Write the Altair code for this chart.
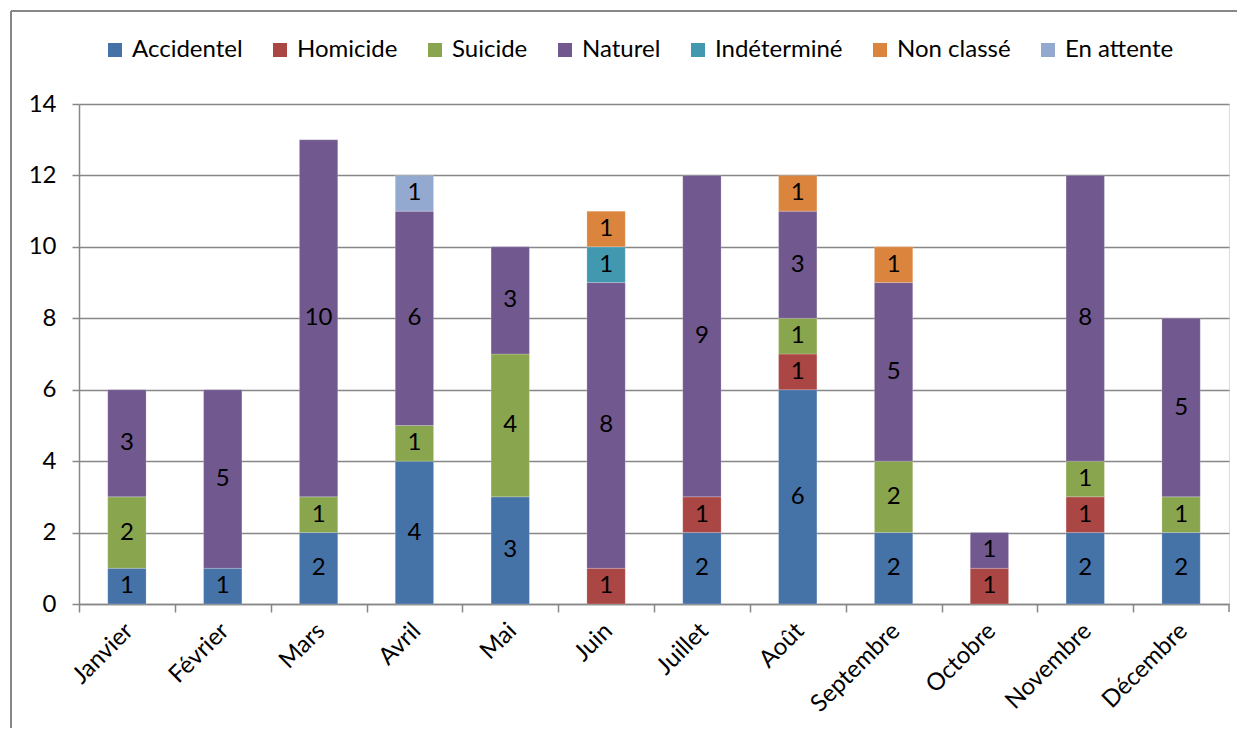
import altair as alt
import pandas as pd

months = ["Janvier", "Février", "Mars", "Avril", "Mai", "Juin", "Juillet",
          "Août", "Septembre", "Octobre", "Novembre", "Décembre"]
categories = ["Accidentel", "Homicide", "Suicide", "Naturel", "Indéterminé",
              "Non classé", "En attente"]
colors = ["#4572A7", "#AA4643", "#89A54E", "#71588F", "#4198AF", "#DB843D", "#93A9CF"]

accidentel  = [1, 1, 2, 4, 3, 0, 2, 6, 2, 0, 2, 2]
homicide    = [0, 0, 0, 0, 0, 1, 1, 1, 0, 1, 1, 0]
suicide     = [2, 0, 1, 1, 4, 0, 0, 1, 2, 0, 1, 1]
naturel     = [3, 5, 10, 6, 3, 8, 9, 3, 5, 1, 8, 5]
indetermine = [0, 0, 0, 0, 0, 1, 0, 0, 0, 0, 0, 0]
non_classe  = [0, 0, 0, 0, 0, 1, 0, 1, 1, 0, 0, 0]
en_attente  = [0, 0, 0, 1, 0, 0, 0, 0, 0, 0, 0, 0]

series = [accidentel, homicide, suicide, naturel, indetermine, non_classe, en_attente]
rows = []
for ci, (cat, vals) in enumerate(zip(categories, series)):
    for m, v in zip(months, vals):
        if v > 0:
            rows.append({"month": m, "cat": cat, "order": ci, "value": v})
df = pd.DataFrame(rows)

FONT = "Lato"
FS = 24
GRID = "#878787"

x_enc = alt.X("month:N", sort=months, title=None,
              scale=alt.Scale(paddingInner=0.6, paddingOuter=0.3),
              axis=alt.Axis(labelAngle=-45, labelAlign="right", labelBaseline="middle",
                            labelFont=FONT, labelFontSize=FS, labelColor="black",
                            labelPadding=15, tickOffset=-47.9, labelOffset=50,
                            tickSize=8, tickColor=GRID, tickWidth=1.5,
                            domainColor=GRID, domainWidth=1.5, grid=False))

base = alt.Chart(df).transform_stack(
    stack="value", groupby=["month"], sort=[alt.SortField("order")], as_=["y0", "y1"]
).transform_calculate(mid="(datum.y0 + datum.y1) / 2")

bars = base.mark_bar(stroke="white", strokeWidth=0.5, strokeOpacity=0.4).encode(
    x=x_enc,
    y=alt.Y("y0:Q", title=None,
            scale=alt.Scale(domain=[0, 14], nice=False),
            axis=alt.Axis(values=list(range(0, 15, 2)), labelFont=FONT, labelFontSize=FS,
                          labelColor="black", labelPadding=16, tickSize=7,
                          tickColor=GRID, tickWidth=1.5, domainColor=GRID, domainWidth=1.5,
                          gridColor=GRID, gridWidth=1.5)),
    y2="y1:Q",
    color=alt.Color("cat:N", sort=categories,
                    scale=alt.Scale(domain=categories, range=colors),
                    legend=alt.Legend(title=None, orient="none", direction="horizontal",
                                      legendX=24, legendY=-66, symbolType="square",
                                      symbolSize=196, symbolStrokeWidth=0,
                                      labelFont=FONT, labelFontSize=FS, labelColor="black",
                                      columnPadding=25, labelOffset=5)),
)

labels = base.mark_text(font=FONT, fontSize=FS, color="black", baseline="middle").encode(
    x=alt.X("month:N", sort=months),
    y="mid:Q",
    text="value:Q",
)

one = pd.DataFrame({"a": [0]})
top_line = alt.Chart(one).mark_rule(color=GRID, strokeWidth=2).encode(
    x=alt.value(-68), x2=alt.value(1158), y=alt.value(-93)
)
left_line = alt.Chart(one).mark_rule(color=GRID, strokeWidth=2).encode(
    x=alt.value(-68), y=alt.value(-93), y2=alt.value(624)
)
end_tick = alt.Chart(one).mark_rule(color=GRID, strokeWidth=1.5).encode(
    x=alt.value(1150), y=alt.value(500), y2=alt.value(508)
)

chart = alt.layer(top_line, left_line, bars, labels, end_tick).properties(
    width=1150, height=500,
    padding={"left": 2, "top": 2, "right": 0, "bottom": 0},
).configure_view(stroke=None).configure(font=FONT)

chart.save("out.html", embed_options={"renderer": "svg", "actions": False})
